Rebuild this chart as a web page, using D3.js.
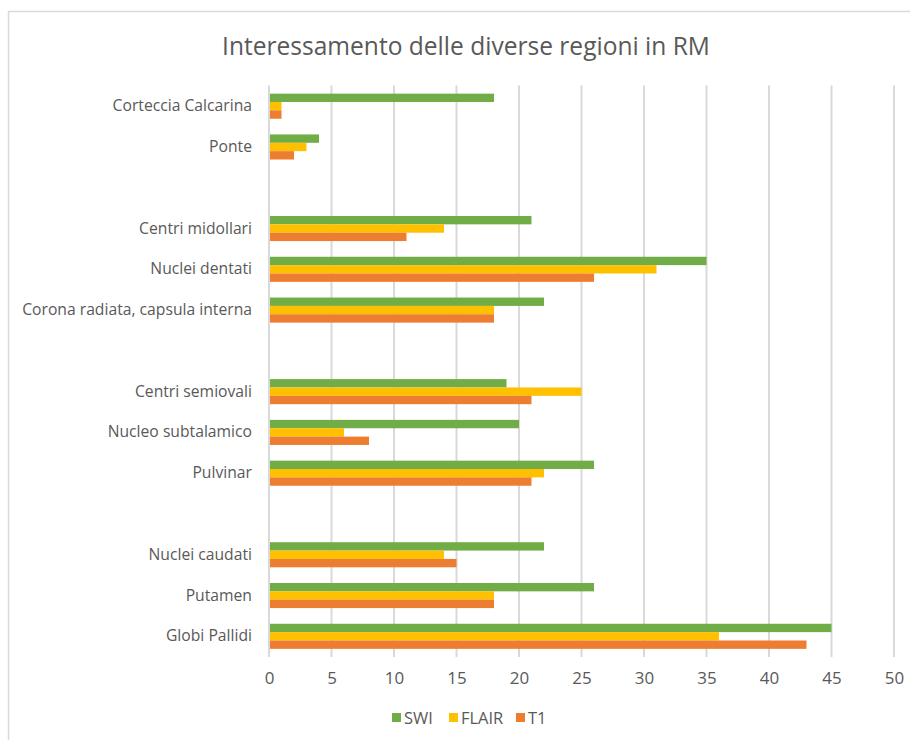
<!DOCTYPE html>
<html><head><meta charset="utf-8">
<script src="https://cdn.jsdelivr.net/npm/d3@7"></script>
<style>body{margin:0;background:#fff;}svg{display:block;font-family:"Open Sans",sans-serif;}</style>
</head><body>
<svg id="c" width="910" height="740"></svg>
<script>
// categories listed top to bottom; "gap*" = empty slot
const categories = ["Corteccia Calcarina","Ponte","gap1","Centri midollari","Nuclei dentati","Corona radiata, capsula interna","gap2","Centri semiovali","Nucleo subtalamico","Pulvinar","gap3","Nuclei caudati","Putamen","Globi Pallidi"];
const seriesNames = ["SWI","FLAIR","T1"];
const seriesColors = ["#70AD47","#FFC000","#ED7D31"];
const swi   = [18, 4, null, 21, 35, 22, null, 19, 20, 26, null, 22, 26, 45];
const flair = [ 1, 3, null, 14, 31, 18, null, 25,  6, 22, null, 14, 18, 36];
const t1    = [ 1, 2, null, 11, 26, 18, null, 21,  8, 21, null, 15, 18, 43];
const xTicks = [0,5,10,15,20,25,30,35,40,45,50];
const title = "Interessamento delle diverse regioni in RM";

(function(){
const svg = d3.select("#c");
const txt = "#595959";
const FF = "'Open Sans',sans-serif";
svg.append("rect").attr("x",8.5).attr("y",11.5).attr("width",1000).attr("height",1000)
  .attr("fill","none").attr("stroke","#d9d9d9").attr("stroke-width",1.5);

function fit(str, target, base){
  const t = svg.append("text").attr("font-family",FF).attr("font-size",base).text(str);
  const w = t.node().getComputedTextLength(); t.remove();
  return base*target/w;
}
const labFS = fit("Corona radiata, capsula interna",230,14);
const titFS = fit(title,488,22);

const pL=269, pR=894, pT=85.5, pB=657;
const x = d3.scaleLinear().domain([0,50]).range([pL,pR]);
const y = d3.scaleBand().domain(categories).range([pT,pB]).paddingInner(0.385).paddingOuter(0.2);
const y1 = d3.scaleBand().domain(seriesNames).range([0,y.bandwidth()]);

svg.append("g").selectAll("line").data(xTicks).join("line")
  .attr("x1",d=>x(d)).attr("x2",d=>x(d)).attr("y1",pT).attr("y2",pB)
  .attr("stroke","#d9d9d9").attr("stroke-width",2);

const xa = svg.append("g").attr("transform",`translate(0,${pB})`)
  .call(d3.axisBottom(x).tickValues(xTicks).tickSize(0).tickPadding(15));
xa.select(".domain").remove();
xa.selectAll("text").attr("fill",txt).attr("font-size",labFS*1.08).attr("font-family",FF);

const ya = svg.append("g").attr("transform",`translate(${pL},0)`)
  .call(d3.axisLeft(y).tickSize(0).tickPadding(17).tickFormat(d=>d.startsWith("gap")?"":d));
ya.select(".domain").remove();
ya.selectAll("text").attr("fill",txt).attr("font-size",labFS).attr("font-family",FF);

const data = [swi,flair,t1];
const groups = svg.append("g").selectAll("g").data(categories.map((c,i)=>({c,i}))).join("g")
  .attr("transform",d=>`translate(0,${y(d.c)})`);
groups.selectAll("rect").data(d=>seriesNames.map((s,k)=>({s,k,v:data[k][d.i]})).filter(e=>e.v!=null))
  .join("rect")
  .attr("x",x(0)+1).attr("y",e=>y1(e.s)).attr("height",y1.bandwidth())
  .attr("width",e=>x(e.v)-x(0)-1).attr("fill",e=>seriesColors[e.k]);

svg.append("text").attr("x",466).attr("y",55).attr("text-anchor","middle")
  .attr("font-size",titFS).attr("fill",txt).attr("font-family",FF).text(title);

const lx=[392,449,516];
const lg = svg.append("g").selectAll("g").data(seriesNames).join("g")
  .attr("transform",(d,i)=>`translate(${lx[i]},718)`);
lg.append("rect").attr("x",0).attr("y",-5).attr("width",9).attr("height",9).attr("fill",(d,i)=>seriesColors[i]);
lg.append("text").attr("x",12).attr("y",5.5).attr("font-size",labFS*1.05).attr("fill",txt)
  .attr("font-family",FF).text(d=>d);
})();
</script>
</body></html>
